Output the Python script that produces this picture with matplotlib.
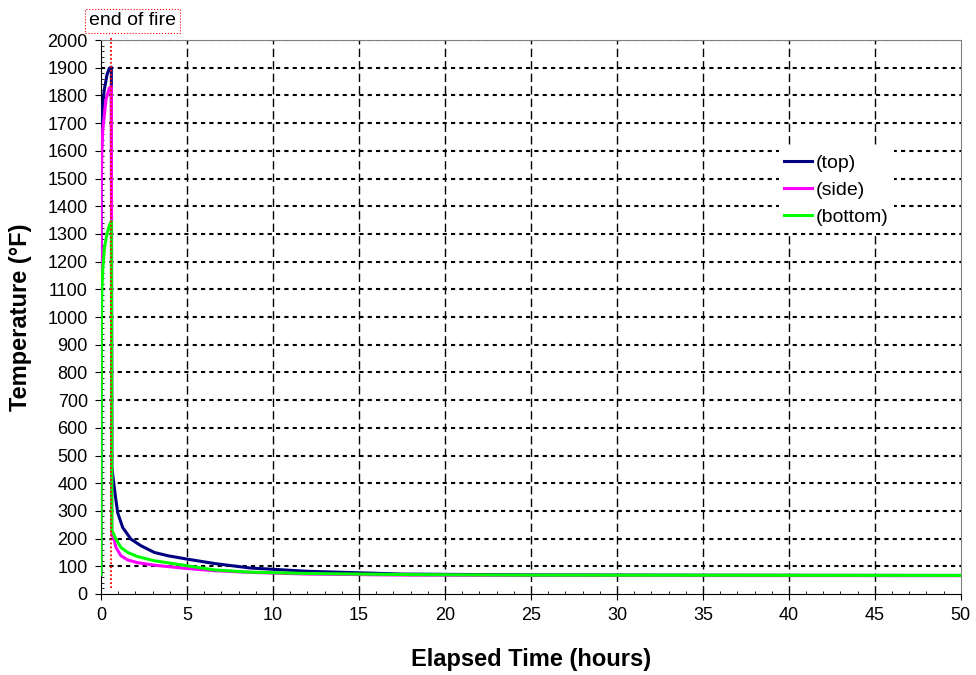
import matplotlib
matplotlib.use("Agg")
import matplotlib.pyplot as plt
from matplotlib.ticker import MultipleLocator

plt.rcParams['font.family'] = ['Liberation Sans', 'DejaVu Sans']

# tiempos en horas y temperaturas en grados F
t_top = [0, 0.01, 0.05, 0.1, 0.19, 0.35, 0.48, 0.6, 0.63, 0.7, 0.81, 0.97, 1.26, 1.74, 2.33, 3.1, 3.9, 5, 6.6, 8.65, 12, 17.5, 25, 35, 50]
temp_top = [70, 1500, 1720, 1770, 1820, 1875, 1898, 1902, 460, 420, 365, 293, 240, 198, 174, 150, 138, 126, 110, 94, 82, 72, 69, 68, 67]

t_side = [0, 0.01, 0.05, 0.1, 0.29, 0.48, 0.6, 0.63, 0.74, 0.87, 1.16, 1.55, 2.13, 3.1, 5, 6.6, 8.65, 12, 18, 25, 50]
temp_side = [70, 1450, 1600, 1675, 1785, 1826, 1832, 215, 201, 168, 138, 123, 113, 104, 92, 84, 78, 72, 68, 67, 66]

t_bottom = [0, 0.02, 0.05, 0.1, 0.2, 0.35, 0.48, 0.6, 0.63, 0.74, 0.87, 1.16, 1.55, 2.13, 3.1, 5, 6.6, 8.65, 12, 18, 25, 50]
temp_bottom = [70, 1000, 1100, 1170, 1250, 1300, 1330, 1345, 230, 216, 198, 168, 150, 135, 120, 102, 87, 79, 74, 70, 68, 67]

fin_fuego = 0.6

fig = plt.figure(figsize=(9.76, 6.75), dpi=100)
ax = fig.add_axes([0.1035, 0.12, 0.881, 0.8207])

ax.plot(t_top, temp_top, color='#000080', lw=2.2, label='(top)', zorder=3)
ax.plot(t_side, temp_side, color='#FF00FF', lw=2.2, label='(side)', zorder=3)
ax.plot(t_bottom, temp_bottom, color='#00FF00', lw=2.2, label='(bottom)', zorder=4)

# linea de fin del fuego
ax.plot([fin_fuego, fin_fuego], [20, 2014], color='red', lw=1.3, ls=(0, (1, 1.2)), clip_on=False, zorder=5)

ax.set_xlim(0, 50)
ax.set_ylim(0, 2000)
ax.xaxis.set_major_locator(MultipleLocator(5))
ax.xaxis.set_minor_locator(MultipleLocator(1))
ax.yaxis.set_major_locator(MultipleLocator(100))
ax.yaxis.set_minor_locator(MultipleLocator(20))
ax.tick_params(which='major', direction='out', length=4.5, labelsize=13, pad=5)
ax.tick_params(which='minor', direction='in', length=2.5)

for x in range(5, 50, 5):
    ax.axvline(x, color='black', lw=1, ls=(0, (6, 3)), zorder=1)
for y in range(100, 2001, 100):
    ax.axhline(y, color='black', lw=1.5, ls=(0, (2, 2)), zorder=1)

ax.spines['top'].set_color('#808080')
ax.spines['right'].set_color('#808080')

ax.set_xlabel('Elapsed Time (hours)', fontsize=17, fontweight='bold', va='center')
ax.set_ylabel('Temperature (°F)', fontsize=17, fontweight='bold', va='center')
ax.xaxis.set_label_coords(0.5, -0.119)
ax.yaxis.set_label_coords(-0.094, 0.5)

leg = ax.legend(loc='center left', bbox_to_anchor=(0.788, 0.729), frameon=True, fontsize=14,
                handlelength=1.4, handletextpad=0.2, borderpad=0.3, labelspacing=0.5,
                borderaxespad=0)
leg.get_frame().set_edgecolor('none')
leg.get_frame().set_facecolor('white')
leg.get_frame().set_alpha(1)
leg.get_frame().set_boxstyle('square', pad=0)

fig.text(0.1358, 0.969, 'end of fire', fontsize=14, ha='center', va='center',
         bbox=dict(boxstyle='square,pad=0.2', fc='white', ec='red', ls=':', lw=0.8))

fig.savefig('out.png', dpi=100)
